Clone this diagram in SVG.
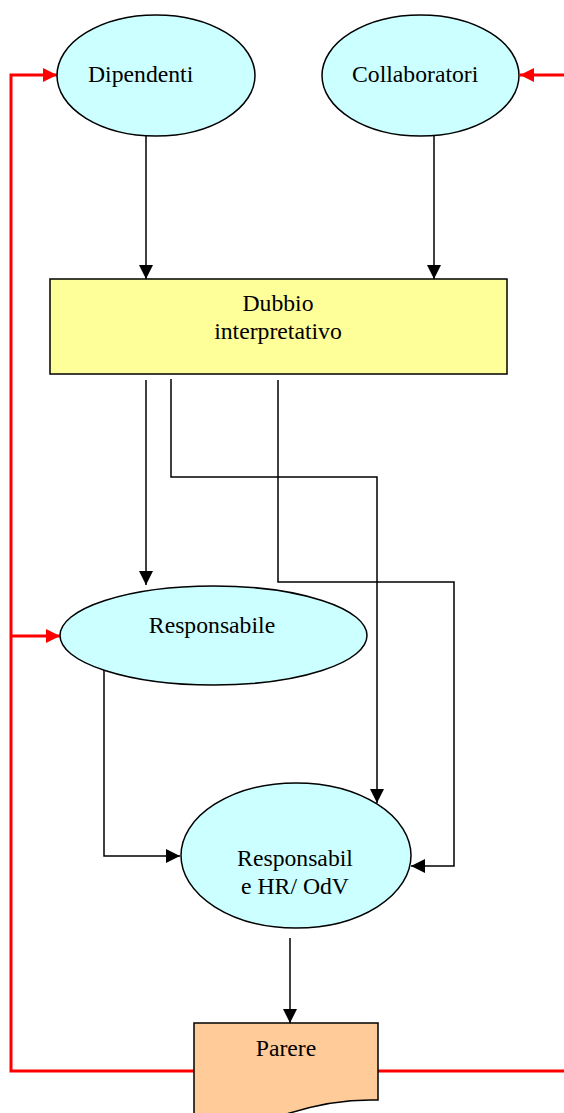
<svg xmlns="http://www.w3.org/2000/svg" width="564" height="1113" viewBox="0 0 564 1113">
<style>
.ell{fill:#CCFFFF;stroke:#000;stroke-width:1.5}
.box{fill:#FFFF99;stroke:#000;stroke-width:1.5}
.doc{fill:#FFCC99;stroke:#000;stroke-width:1.5}
.t{font-family:"Liberation Serif","Times New Roman",serif;font-size:23.7px;fill:#000}
.c{fill:none;stroke:#000;stroke-width:1.5}
.r{fill:none;stroke:#FF0000;stroke-width:3}
</style>
<defs>
<marker id="ab" markerUnits="userSpaceOnUse" markerWidth="14" markerHeight="14" refX="14" refY="7" orient="auto">
<path d="M0,0 L14,7 L0,14 Z" fill="#000"/>
</marker>
<marker id="ar" markerUnits="userSpaceOnUse" markerWidth="14" markerHeight="14" refX="14" refY="7" orient="auto">
<path d="M0,0 L14,7 L0,14 Z" fill="#FF0000"/>
</marker>
</defs>
<rect width="564" height="1113" fill="#fff"/>
<g id="connectors">
<path class="c" d="M146,136 V279" marker-end="url(#ab)"/>
<path class="c" d="M434,136 V279" marker-end="url(#ab)"/>
<path class="c" d="M146,380 V585" marker-end="url(#ab)"/>
<path class="c" d="M171,379 V477 H377 V803" marker-end="url(#ab)"/>
<path class="c" d="M278,380 V582 H454 V866 H411" marker-end="url(#ab)"/>
<path class="c" d="M104,670 V856 H180" marker-end="url(#ab)"/>
<path class="c" d="M290,938 V1023" marker-end="url(#ab)"/>
<path class="r" d="M194,1071 H11 V75 H57" marker-end="url(#ar)"/>
<path class="r" d="M11,636 H60" marker-end="url(#ar)"/>
<path class="r" d="M378,1071 H570"/>
<path class="r" d="M570,75 H520" marker-end="url(#ar)"/>
</g>
<g id="dipendenti">
<ellipse class="ell" cx="156" cy="75.5" rx="99" ry="60.5"/>
<text class="t" x="88" y="82">Dipendenti</text>
</g>
<g id="collaboratori">
<ellipse class="ell" cx="420.5" cy="75.5" rx="98.5" ry="60.5"/>
<text class="t" x="352" y="82">Collaboratori</text>
</g>
<g id="dubbio">
<rect class="box" x="50" y="279" width="457" height="95"/>
<text class="t" x="278" y="311" text-anchor="middle">Dubbio</text>
<text class="t" x="278" y="339" text-anchor="middle">interpretativo</text>
</g>
<g id="responsabile">
<ellipse class="ell" cx="213.5" cy="635.5" rx="153.5" ry="49.5"/>
<text class="t" x="212" y="633" text-anchor="middle">Responsabile</text>
</g>
<g id="responsabile-hr">
<ellipse class="ell" cx="296" cy="855.5" rx="115" ry="72.5"/>
<text class="t" x="295" y="866" text-anchor="middle">Responsabil</text>
<text class="t" x="295" y="894" text-anchor="middle">e HR/ OdV</text>
</g>
<g id="parere">
<path class="doc" d="M194,1023 H378 V1100 C345,1099 315,1105 290,1113 C260,1122 225,1124 194,1118 Z"/>
<text class="t" x="286" y="1056" text-anchor="middle">Parere</text>
</g>
</svg>
